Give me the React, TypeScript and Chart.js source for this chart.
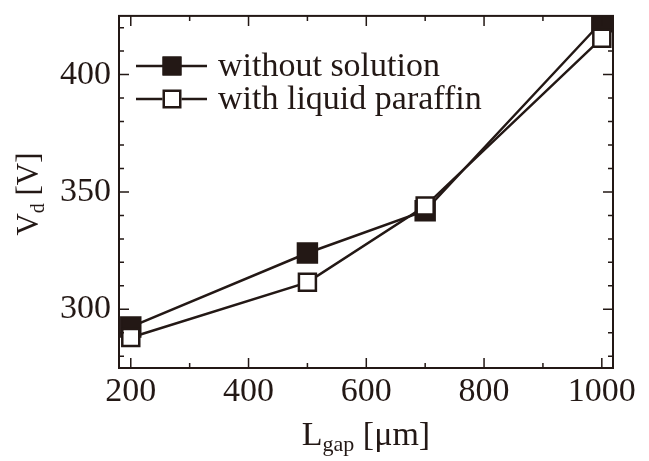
import React, { useEffect, useRef } from "react";
import { Chart, registerables } from "chart.js";

Chart.register(...registerables);

const gapValues = [200, 500, 700, 1000];
const withoutSolution = [292.5, 324, 342, 422.5];
const withParaffin = [288, 311.5, 344, 415.5];
const seriesLabels = ["without solution", "with liquid paraffin"];
const xMajorTicks = [200, 400, 600, 800, 1000];
const xMinorTicks = [300, 500, 700, 900];
const yMajorTicks = [300, 350, 400];
const yMinorTicks = [280, 290, 310, 320, 330, 340, 360, 370, 380, 390, 410, 420];

const INK = "#231815";
const FONT = "'Liberation Serif', 'DejaVu Serif', serif";

const framePlugin = {
  id: "frameTicks",
  afterDraw(chart: any) {
    const { ctx, chartArea: a, scales } = chart;
    const xs = scales.x;
    const ys = scales.y;
    ctx.save();
    ctx.strokeStyle = INK;
    ctx.lineWidth = 2;
    ctx.strokeRect(a.left, a.top, a.right - a.left, a.bottom - a.top);
    ctx.lineWidth = 1.5;
    const drawX = (vals: number[], len: number) => {
      vals.forEach((v) => {
        const px = xs.getPixelForValue(v);
        ctx.beginPath();
        ctx.moveTo(px, a.bottom);
        ctx.lineTo(px, a.bottom - len);
        ctx.moveTo(px, a.top);
        ctx.lineTo(px, a.top + len);
        ctx.stroke();
      });
    };
    const drawY = (vals: number[], len: number) => {
      vals.forEach((v) => {
        const py = ys.getPixelForValue(v);
        ctx.beginPath();
        ctx.moveTo(a.left, py);
        ctx.lineTo(a.left + len, py);
        ctx.moveTo(a.right, py);
        ctx.lineTo(a.right - len, py);
        ctx.stroke();
      });
    };
    drawX(xMajorTicks, 10);
    drawX(xMinorTicks, 5);
    drawY(yMajorTicks, 10);
    drawY(yMinorTicks, 5);

    // legend
    chart.data.datasets.forEach((ds: any, i: number) => {
      const y = 66 + i * 33;
      ctx.strokeStyle = INK;
      ctx.lineWidth = 2.5;
      ctx.beginPath();
      ctx.moveTo(136, y);
      ctx.lineTo(207, y);
      ctx.stroke();
      const s = 19;
      ctx.fillStyle = ds.pointBackgroundColor;
      ctx.fillRect(172 - s / 2, y - s / 2, s, s);
      ctx.lineWidth = 2.5;
      ctx.strokeRect(172 - s / 2 + 1.25, y - s / 2 + 1.25, s - 2.5, s - 2.5);
      ctx.fillStyle = INK;
      ctx.font = `34px ${FONT}`;
      ctx.textAlign = "left";
      ctx.textBaseline = "alphabetic";
      ctx.fillText(ds.label, 218, y + 10);
    });

    // axis titles with subscripts
    ctx.fillStyle = INK;
    ctx.textBaseline = "alphabetic";
    const xParts = [
      { t: "L", size: 34, dy: 0 },
      { t: "gap", size: 22, dy: 6 },
      { t: " [\u03bcm]", size: 34, dy: 0 },
    ];
    let w = 0;
    xParts.forEach((p) => {
      ctx.font = `${p.size}px ${FONT}`;
      w += ctx.measureText(p.t).width;
    });
    let x0 = (a.left + a.right) / 2 - w / 2;
    const xb = 445;
    xParts.forEach((p) => {
      ctx.font = `${p.size}px ${FONT}`;
      ctx.fillText(p.t, x0, xb + p.dy);
      x0 += ctx.measureText(p.t).width;
    });
    const yParts = [
      { t: "V", size: 31, dy: 0 },
      { t: "d", size: 20, dy: 6 },
      { t: " [V]", size: 31, dy: 0 },
    ];
    w = 0;
    yParts.forEach((p) => {
      ctx.font = `${p.size}px ${FONT}`;
      w += ctx.measureText(p.t).width;
    });
    ctx.save();
    ctx.translate(38, 194);
    ctx.rotate(-Math.PI / 2);
    let y0 = -w / 2;
    yParts.forEach((p) => {
      ctx.font = `${p.size}px ${FONT}`;
      ctx.fillText(p.t, y0, p.dy);
      y0 += ctx.measureText(p.t).width;
    });
    ctx.restore();
    ctx.restore();
  },
};

export default function App() {
  const ref = useRef<HTMLCanvasElement | null>(null);
  useEffect(() => {
    if (!ref.current) return;
    const chart = new Chart(ref.current, {
      type: "line",
      data: {
        datasets: [
          {
            label: seriesLabels[0],
            data: gapValues.map((x, i) => ({ x, y: withoutSolution[i] })),
            borderColor: INK,
            borderWidth: 2.5,
            pointStyle: "rect",
            pointRadius: 13.4,
            pointHoverRadius: 13.4,
            pointBackgroundColor: INK,
            pointBorderColor: INK,
            pointBorderWidth: 2.5,
            order: 2,
          },
          {
            label: seriesLabels[1],
            data: gapValues.map((x, i) => ({ x, y: withParaffin[i] })),
            borderColor: INK,
            borderWidth: 2.5,
            pointStyle: "rect",
            pointRadius: 12,
            pointHoverRadius: 12,
            pointBackgroundColor: "#ffffff",
            pointBorderColor: INK,
            pointBorderWidth: 2.5,
            order: 1,
          },
        ],
      },
      options: {
        responsive: false,
        animation: false,
        devicePixelRatio: 1,
        layout: { padding: { top: 14, right: 36, left: 0, bottom: 0 } },
        plugins: { legend: { display: false }, tooltip: { enabled: false } },
        scales: {
          x: {
            type: "linear",
            min: 180,
            max: 1019,
            grid: { display: false, drawTicks: false },
            border: { display: false },
            afterBuildTicks: (s: any) => {
              s.ticks = xMajorTicks.map((v) => ({ value: v }));
            },
            afterFit: (s: any) => {
              s.height = 93;
              s.paddingLeft = 0;
              s.paddingRight = 0;
            },
            ticks: {
              color: INK,
              padding: 4,
              maxRotation: 0,
              autoSkip: false,
              font: { family: FONT, size: 34 },
              callback: (v: any) => String(v),
            },
          },
          y: {
            type: "linear",
            min: 275,
            max: 425,
            grid: { display: false, drawTicks: false },
            border: { display: false },
            afterBuildTicks: (s: any) => {
              s.ticks = yMajorTicks.map((v) => ({ value: v }));
            },
            afterFit: (s: any) => {
              s.width = 119;
              s.paddingTop = 0;
              s.paddingBottom = 0;
            },
            ticks: {
              color: INK,
              padding: 8,
              autoSkip: false,
              font: { family: FONT, size: 34 },
              callback: (v: any) => String(v),
            },
          },
        },
      },
      plugins: [framePlugin],
    } as any);
    return () => chart.destroy();
  }, []);
  return (
    <div style={{ position: "fixed", left: 0, top: 0, width: 649, height: 461, background: "#fff" }}>
      <canvas ref={ref} width={649} height={461} />
    </div>
  );
}
